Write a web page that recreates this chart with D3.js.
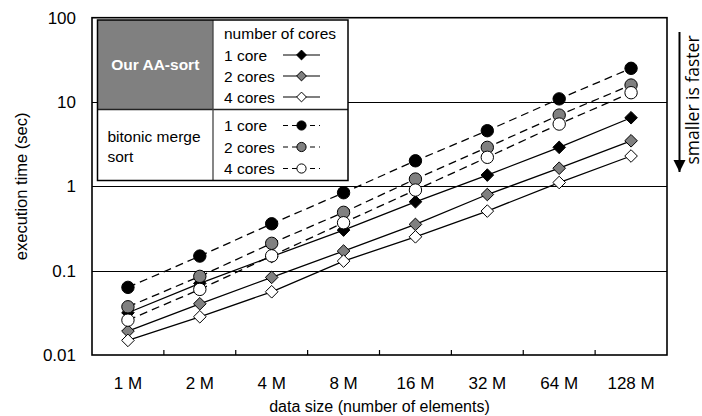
<!DOCTYPE html>
<html>
<head>
<meta charset="utf-8">
<script src="https://cdn.jsdelivr.net/npm/d3@7"></script>
<style>
  html, body { margin: 0; padding: 0; background: #fff; }
  svg { display: block; }
  text { font-family: "Liberation Sans", Arial, sans-serif; fill: #000; }
</style>
</head>
<body>
<svg id="chart" width="702" height="416"></svg>
<script>
// Data sizes on the x axis
const categories = ["1 M", "2 M", "4 M", "8 M", "16 M", "32 M", "64 M", "128 M"];

// Execution time in seconds, AA-sort
const aaSort1 = [0.0317, 0.0707, 0.147, 0.303, 0.656, 1.36, 2.90, 6.51];
const aaSort2 = [0.0192, 0.0405, 0.0833, 0.171, 0.354, 0.80, 1.64, 3.47];
const aaSort4 = [0.0149, 0.0284, 0.0562, 0.130, 0.252, 0.509, 1.11, 2.29];

// Execution time in seconds, bitonic merge sort
const bitonic1 = [0.0634, 0.149, 0.36, 0.84, 2.01, 4.57, 10.9, 25.1];
const bitonic2 = [0.0373, 0.0856, 0.211, 0.492, 1.22, 2.90, 7.0, 15.9];
const bitonic4 = [0.0259, 0.060, 0.150, 0.37, 0.904, 2.21, 5.48, 12.9];

// Y axis ticks
const yTicks = [0.01, 0.1, 1, 10, 100];
const yTickLabels = ["0.01", "0.1", "1", "10", "100"];

const series = [
  { values: aaSort1, shape: "diamond", fill: "#000",    dashed: false },
  { values: aaSort2, shape: "diamond", fill: "#808080", dashed: false },
  { values: aaSort4, shape: "diamond", fill: "#fff",    dashed: false },
  { values: bitonic1, shape: "circle", fill: "#000",    dashed: true },
  { values: bitonic2, shape: "circle", fill: "#808080", dashed: true },
  { values: bitonic4, shape: "circle", fill: "#fff",    dashed: true }
];

const svg = d3.select("#chart");
const plot = { left: 92, right: 667, top: 17.7, bottom: 355 };

const x = d3.scaleBand().domain(categories).range([plot.left, plot.right]);
const y = d3.scaleLog().domain([0.01, 100]).range([plot.bottom, plot.top]);
const cx = c => x(c) + x.bandwidth() / 2;

// Horizontal grid lines
svg.append("g").selectAll("line")
  .data(yTicks.slice(1, -1))
  .join("line")
  .attr("x1", plot.left).attr("x2", plot.right)
  .attr("y1", d => Math.round(y(d)) + 0.5).attr("y2", d => Math.round(y(d)) + 0.5)
  .attr("stroke", "#000").attr("stroke-width", 1.1);

// Y axis labels
const yAxis = d3.axisLeft(y).tickValues(yTicks)
  .tickFormat((d, i) => yTickLabels[i]).tickSize(0).tickPadding(16);
const gy = svg.append("g").attr("transform", `translate(${plot.left},0)`).call(yAxis);
gy.select(".domain").remove();
gy.selectAll("text").style("font-size", "17px").style("font-family", "Liberation Sans, Arial, sans-serif");

// X axis with inward ticks at band boundaries
const xAxis = d3.axisBottom(x).tickSize(0).tickPadding(22);
const gx = svg.append("g").attr("transform", `translate(0,${plot.bottom})`).call(xAxis);
gx.select(".domain").remove();
gx.selectAll("text").style("font-size", "17px").style("font-family", "Liberation Sans, Arial, sans-serif");
svg.append("g").selectAll("line")
  .data(categories.slice(1))
  .join("line")
  .attr("x1", d => x(d)).attr("x2", d => x(d))
  .attr("y1", plot.bottom).attr("y2", plot.bottom - 5)
  .attr("stroke", "#000").attr("stroke-width", 1.2);

// Plot frame
svg.append("rect")
  .attr("x", plot.left).attr("y", plot.top)
  .attr("width", plot.right - plot.left).attr("height", plot.bottom - plot.top)
  .attr("fill", "none").attr("stroke", "#000").attr("stroke-width", 1.6);

// Axis titles
svg.append("text")
  .attr("transform", `translate(27,${(plot.top + plot.bottom) / 2}) rotate(-90)`)
  .attr("text-anchor", "middle")
  .style("font-size", "16.5px")
  .text("execution time (sec)");
svg.append("text")
  .attr("x", (plot.left + plot.right) / 2).attr("y", 412)
  .attr("text-anchor", "middle")
  .style("font-size", "16px")
  .text("data size (number of elements)");

// Marker shapes
const diamondPath = r => `M0,${-r}L${r},0L0,${r}L${-r},0Z`;
function drawMarker(g, shape, fill, r) {
  if (shape === "circle") {
    g.append("circle").attr("r", r).attr("fill", fill).attr("stroke", "#000").attr("stroke-width", 1);
  } else {
    g.append("path").attr("d", diamondPath(r)).attr("fill", fill).attr("stroke", "#000").attr("stroke-width", 1);
  }
}

// Series lines and markers
const line = d3.line().x((d, i) => cx(categories[i])).y(d => y(d));
series.forEach(s => {
  const g = svg.append("g");
  g.append("path")
    .attr("d", line(s.values))
    .attr("fill", "none").attr("stroke", "#000").attr("stroke-width", 1.3)
    .attr("stroke-dasharray", s.dashed ? "8,5" : null);
  s.values.forEach((v, i) => {
    const m = g.append("g").attr("transform", `translate(${cx(categories[i])},${y(v)})`);
    drawMarker(m, s.shape, s.fill, s.shape === "circle" ? 6.2 : 6.3);
  });
});

// Legend table
const lg = svg.append("g");
const L = { x0: 97.5, x1: 213, x2: 348, y0: 20, y1: 109.5, y2: 180.5 };
lg.append("rect").attr("x", L.x0).attr("y", L.y0)
  .attr("width", L.x2 - L.x0).attr("height", L.y2 - L.y0)
  .attr("fill", "#fff");
lg.append("rect").attr("x", L.x0).attr("y", L.y0)
  .attr("width", L.x1 - L.x0).attr("height", L.y1 - L.y0)
  .attr("fill", "#808080");
lg.append("line").attr("x1", L.x0).attr("x2", L.x2).attr("y1", L.y1).attr("y2", L.y1)
  .attr("stroke", "#222").attr("stroke-width", 1.3);
lg.append("line").attr("x1", L.x1).attr("x2", L.x1).attr("y1", L.y0).attr("y2", L.y2)
  .attr("stroke", "#444").attr("stroke-width", 1.3);
lg.append("rect").attr("x", L.x0).attr("y", L.y0)
  .attr("width", L.x2 - L.x0).attr("height", L.y2 - L.y0)
  .attr("fill", "none").attr("stroke", "#000").attr("stroke-width", 1.5);

lg.append("text")
  .attr("x", (L.x0 + L.x1) / 2).attr("y", 64.5)
  .attr("text-anchor", "middle").attr("dominant-baseline", "central")
  .style("font-size", "15.5px").style("font-weight", "bold").style("fill", "#fff")
  .text("Our AA-sort");
lg.append("text").attr("x", 107.5).attr("y", 136)
  .attr("dominant-baseline", "central").style("font-size", "15.5px").text("bitonic merge");
lg.append("text").attr("x", 107.5).attr("y", 156)
  .attr("dominant-baseline", "central").style("font-size", "15.5px").text("sort");
lg.append("text").attr("x", 224).attr("y", 33)
  .attr("dominant-baseline", "central").style("font-size", "15.5px").text("number of cores");

const legendRows = [
  { label: "1 core",  cy: 55,    s: series[0] },
  { label: "2 cores", cy: 76,    s: series[1] },
  { label: "4 cores", cy: 97,    s: series[2] },
  { label: "1 core",  cy: 125.5, s: series[3] },
  { label: "2 cores", cy: 147,   s: series[4] },
  { label: "4 cores", cy: 168.5, s: series[5] }
];
legendRows.forEach(r => {
  lg.append("text").attr("x", 224).attr("y", r.cy)
    .attr("dominant-baseline", "central").style("font-size", "15.5px").text(r.label);
  lg.append("line")
    .attr("x1", 283).attr("x2", 320).attr("y1", r.cy).attr("y2", r.cy)
    .attr("stroke", "#000").attr("stroke-width", 1.2)
    .attr("stroke-dasharray", r.s.dashed ? "5,4" : null);
  const m = lg.append("g").attr("transform", `translate(301.5,${r.cy})`);
  drawMarker(m, r.s.shape, r.s.fill, r.s.shape === "circle" ? 4.6 : 4.9);
});

// "smaller is faster" arrow on the right
const defs = svg.append("defs");
defs.append("marker").attr("id", "arrowHead")
  .attr("viewBox", "0 0 10 10").attr("refX", 10).attr("refY", 5)
  .attr("markerWidth", 12).attr("markerHeight", 14).attr("markerUnits", "userSpaceOnUse")
  .attr("orient", "auto")
  .append("path").attr("d", "M0,0L10,5L0,10Z").attr("fill", "#000");
svg.append("line")
  .attr("x1", 679.5).attr("x2", 679.5).attr("y1", 32).attr("y2", 172)
  .attr("stroke", "#000").attr("stroke-width", 2)
  .attr("marker-end", "url(#arrowHead)");
svg.append("text")
  .attr("transform", "translate(698.5,100) rotate(-90)")
  .attr("text-anchor", "middle")
  .style("font-family", "Open Sans, DejaVu Sans, sans-serif")
  .style("font-size", "17.5px")
  .text("smaller is faster");
</script>
</body>
</html>
